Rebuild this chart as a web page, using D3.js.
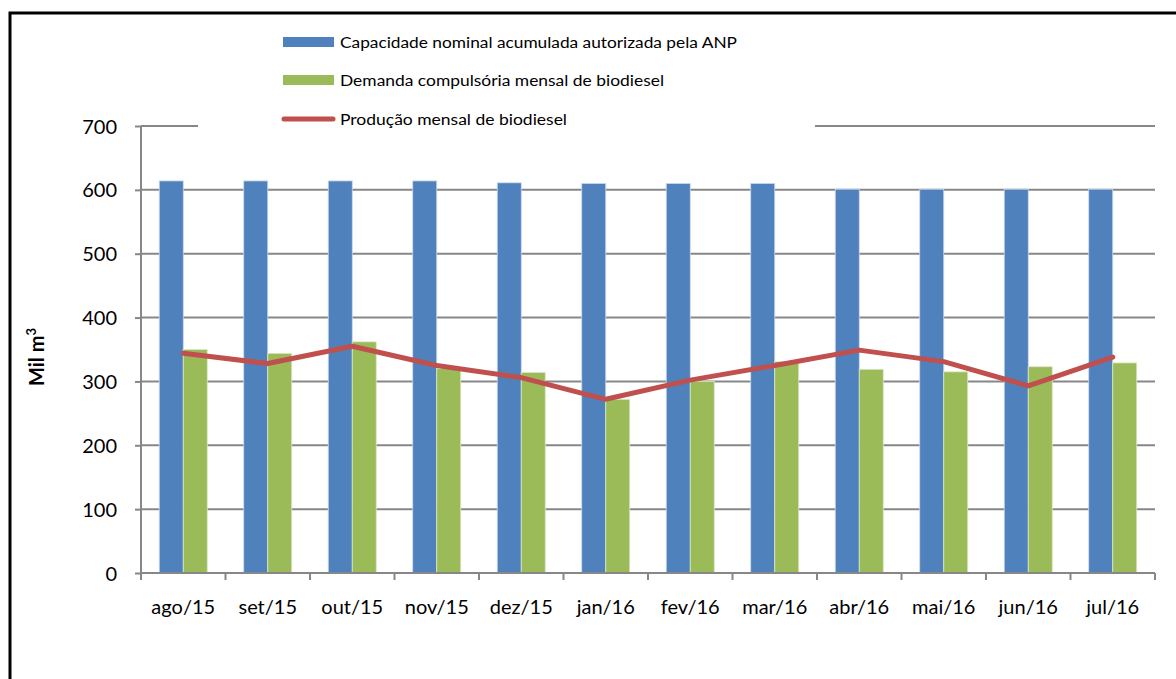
<!DOCTYPE html>
<html><head><meta charset="utf-8">
<script src="https://cdn.jsdelivr.net/npm/d3@7"></script>
<style>body{margin:0;background:#fff}svg{display:block}text{font-family:Lato,"Open Sans",sans-serif;fill:#000}</style>
</head><body><svg id="c" width="1176" height="679"></svg>
<script>
const categories = ["ago/15","set/15","out/15","nov/15","dez/15","jan/16","fev/16","mar/16","abr/16","mai/16","jun/16","jul/16"];
const capacidade = [614,614,614,614,611,610,610,610,601,601,601,601];
const demanda = [350,344,362,320,314,272,300,331,319,315,323,329];
const producao = [344,328,355,325,306,272,302,325,349,331,293,338];
const yTicks = [0,100,200,300,400,500,600,700];
const seriesNames = ["Capacidade nominal acumulada autorizada pela ANP","Demanda compulsória mensal de biodiesel","Produção mensal de biodiesel"];
const colors = ["#4F81BD","#9BBB59","#C0504D"];

const svg = d3.select("#c");
svg.append("path").attr("d","M10,680 L10,13 L1180,13").attr("fill","none").attr("stroke","#000").attr("stroke-width",3);

const L=141,R=1155,T=126,B=573;
const y = d3.scaleLinear().domain([0,700]).range([B,T]);
const x = d3.scaleBand().domain(categories).range([L,R]).paddingInner(0.432).paddingOuter(0.216);
const xs = d3.scaleBand().domain([0,1]).range([0,x.bandwidth()]);

svg.append("g").selectAll("line").data(yTicks.filter(d=>d>0)).join("line")
  .attr("x1",L).attr("x2",R).attr("y1",d=>y(d)).attr("y2",d=>y(d))
  .attr("stroke","#878787").attr("stroke-width",2);

const g = svg.append("g");
g.selectAll(".b1").data(categories).join("rect").attr("class","b1")
  .attr("x",d=>x(d)+xs(0)).attr("width",xs.bandwidth())
  .attr("y",(d,i)=>y(capacidade[i])).attr("height",(d,i)=>B-y(capacidade[i]))
  .attr("fill",colors[0]).attr("stroke","#c9d8ee").attr("stroke-width",0.8);
g.selectAll(".b2").data(categories).join("rect").attr("class","b2")
  .attr("x",d=>x(d)+xs(1)).attr("width",xs.bandwidth())
  .attr("y",(d,i)=>y(demanda[i])).attr("height",(d,i)=>B-y(demanda[i]))
  .attr("fill",colors[1]).attr("stroke","#dce8c8").attr("stroke-width",0.8);

const line = d3.line().x((d,i)=>x(categories[i])+x.bandwidth()/2).y(d=>y(d));
svg.append("path").datum(producao).attr("d",line).attr("fill","none")
  .attr("stroke",colors[2]).attr("stroke-width",5).attr("stroke-linejoin","round").attr("stroke-linecap","round");

const yAxis = d3.axisLeft(y).tickValues(yTicks).tickSize(6).tickPadding(18);
const ya = svg.append("g").attr("transform",`translate(${L},0)`).call(yAxis);
ya.select(".domain").attr("stroke","#878787").attr("stroke-width",2).attr("d",`M-0,${B}V${T}`);
ya.selectAll(".tick line").attr("stroke","#878787").attr("stroke-width",2);
ya.selectAll(".tick text").attr("font-size",20).style("font-family","Lato").attr("dy","0.35em");

const xa = svg.append("g").attr("transform",`translate(0,${B})`);
xa.append("line").attr("x1",L).attr("x2",R).attr("y1",0).attr("y2",0).attr("stroke","#878787").attr("stroke-width",2);
const bounds = categories.map(c=>x(c)-x.step()*x.paddingInner()/2).concat([R]);
xa.selectAll(".xt").data(bounds).join("line").attr("class","xt")
  .attr("x1",d=>d).attr("x2",d=>d).attr("y1",0).attr("y2",7).attr("stroke","#878787").attr("stroke-width",2);
xa.selectAll(".xl").data(categories).join("text").attr("class","xl")
  .attr("x",d=>x(d)+x.bandwidth()/2).attr("y",41).attr("text-anchor","middle")
  .attr("font-size",20).text(d=>d);

const yt = svg.append("text").attr("transform","translate(44,357) rotate(-90)")
  .attr("text-anchor","middle").attr("font-size",20).attr("font-weight","bold");
yt.append("tspan").text("Mil m");
yt.append("tspan").attr("font-size",13).attr("dy",-8).text("3");

const lg = svg.append("g");
lg.append("rect").attr("x",198).attr("y",25).attr("width",617).attr("height",112).attr("fill","#fff");
const ly = [42,80,119];
lg.append("rect").attr("x",283).attr("y",ly[0]-5).attr("width",51).attr("height",10).attr("fill",colors[0]);
lg.append("rect").attr("x",283).attr("y",ly[1]-5).attr("width",51).attr("height",10).attr("fill",colors[1]);
lg.append("line").attr("x1",284).attr("x2",333).attr("y1",ly[2]).attr("y2",ly[2]).attr("stroke",colors[2]).attr("stroke-width",5).attr("stroke-linecap","round");
const widths=[397,324,227];
lg.selectAll(".lt").data(seriesNames).join("text").attr("class","lt")
  .attr("x",340).attr("y",(d,i)=>ly[i]+6).attr("font-size",15.5)
  .attr("textLength",(d,i)=>widths[i]).attr("lengthAdjust","spacingAndGlyphs").text(d=>d);
</script></body></html>
